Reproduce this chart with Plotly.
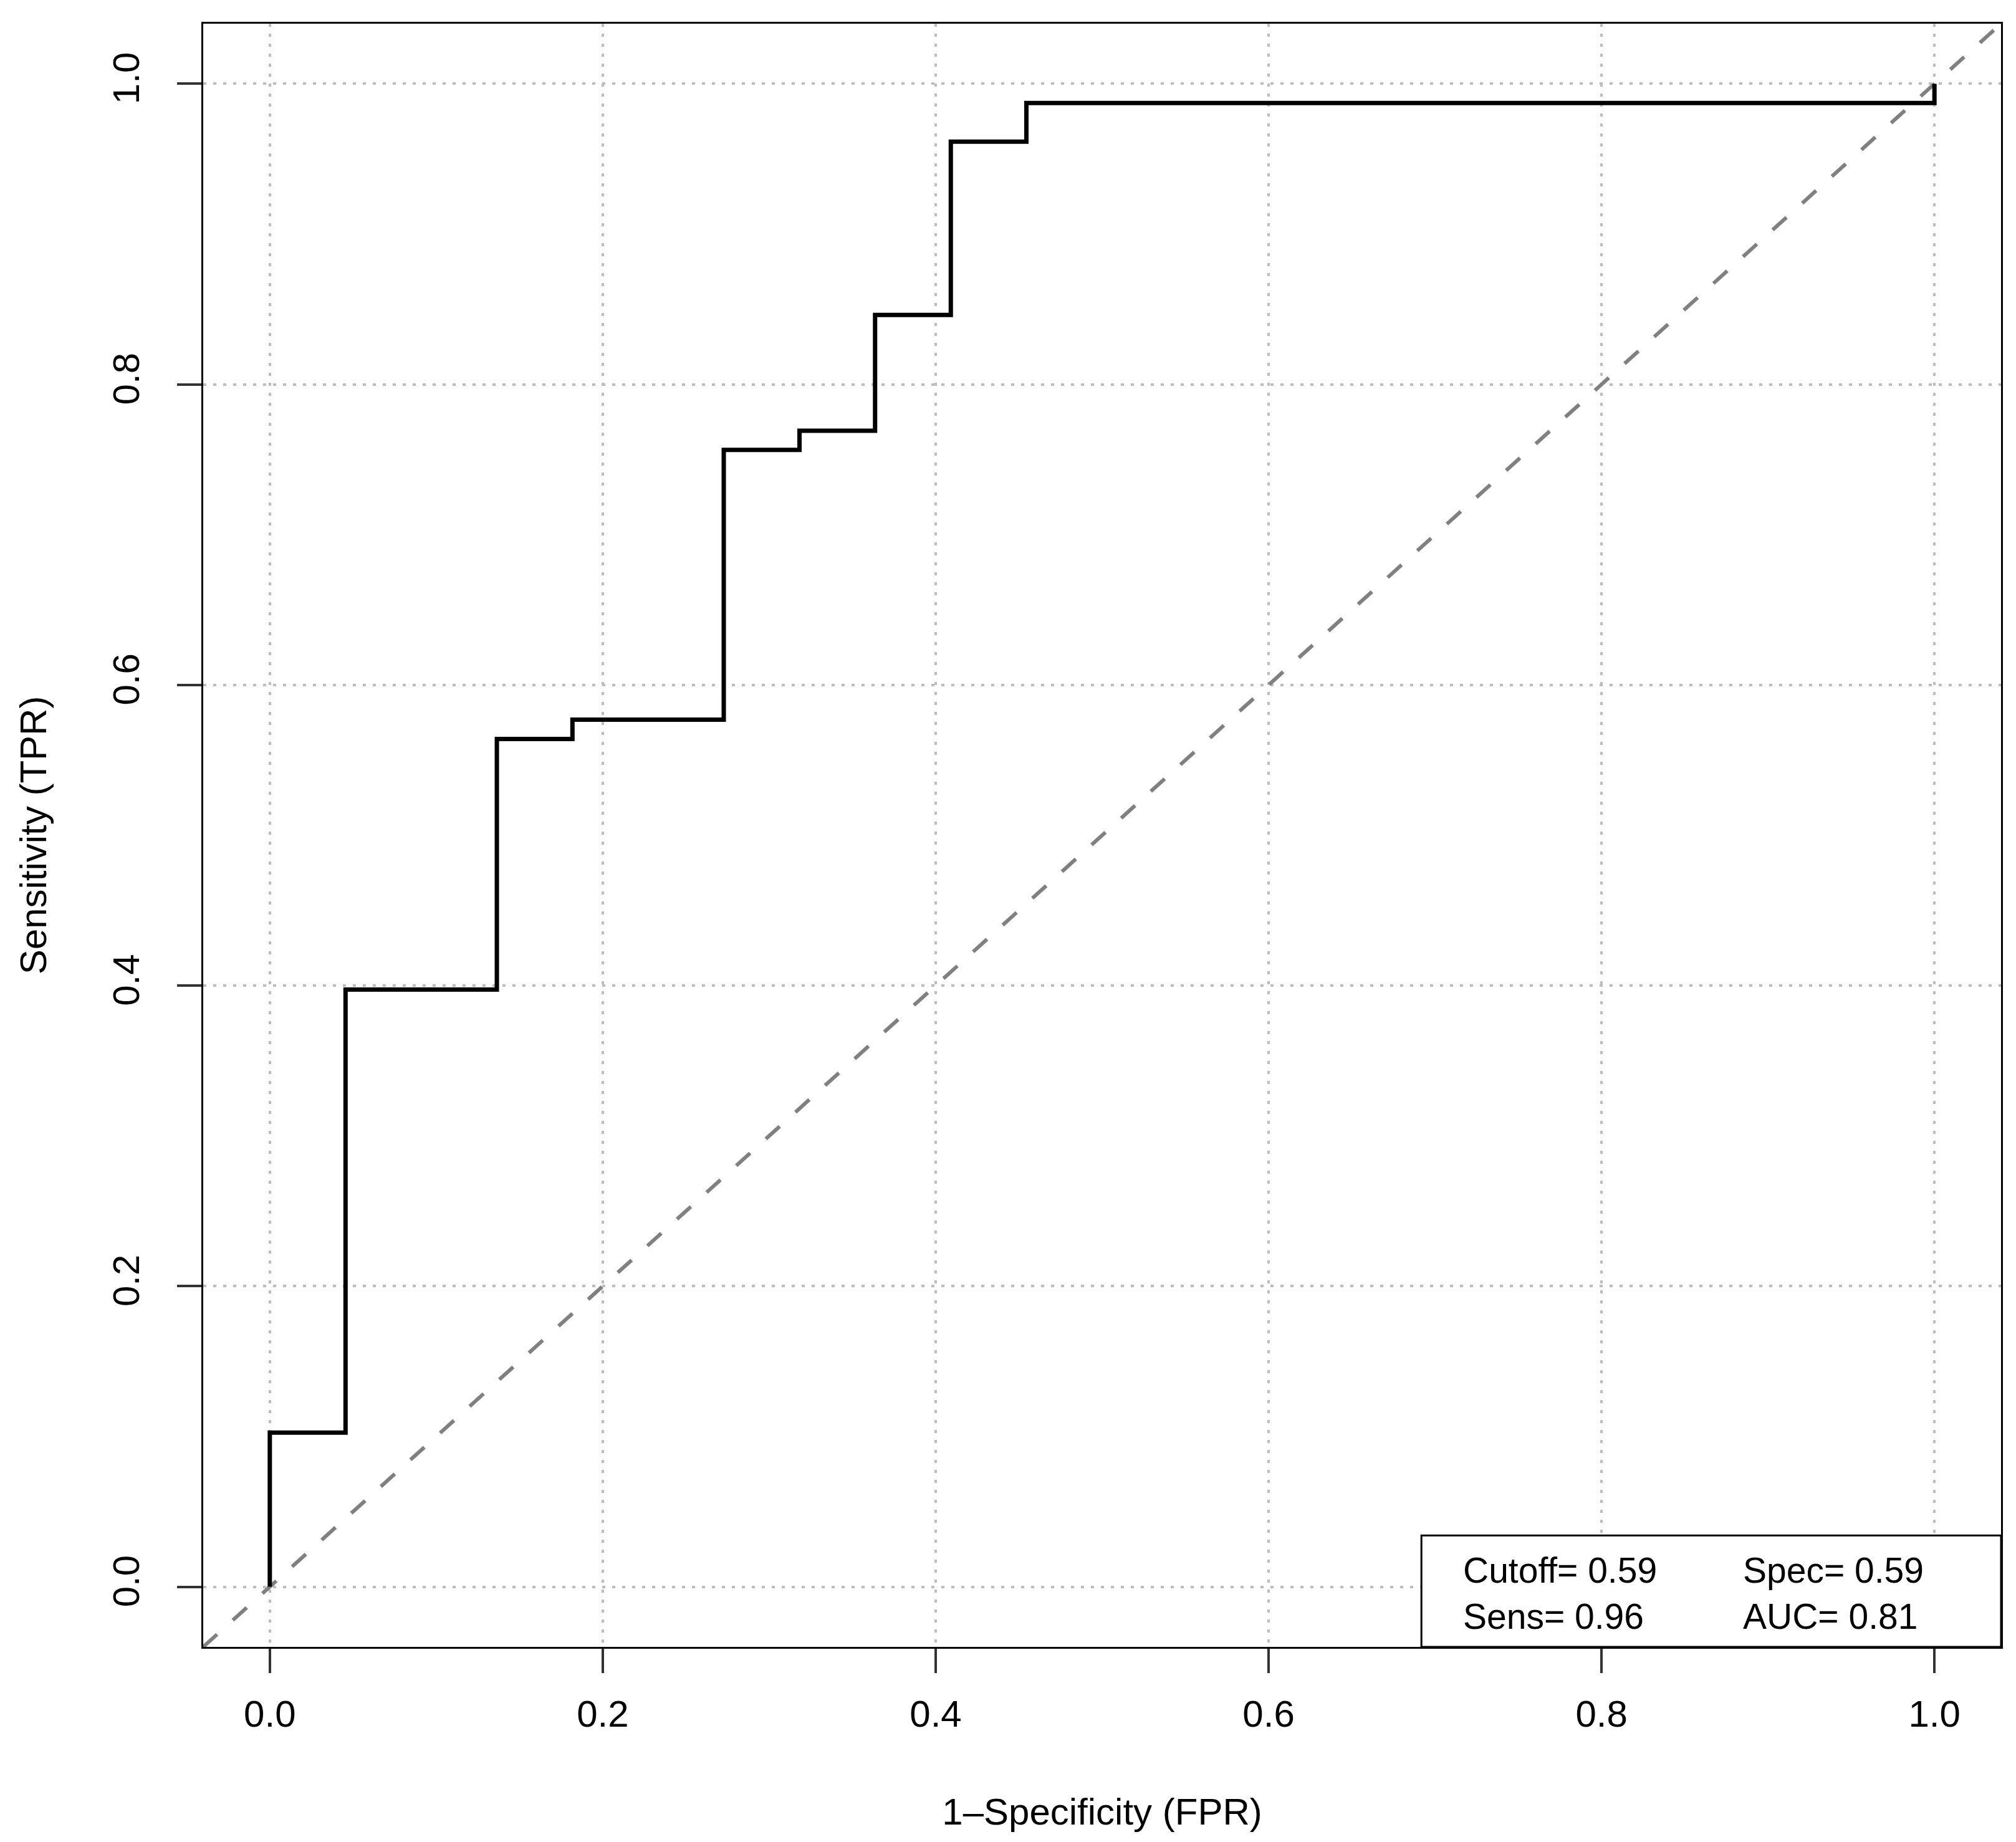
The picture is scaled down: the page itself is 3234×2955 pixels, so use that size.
import plotly.graph_objects as go

# ROC step curve
fpr = [0.0, 0.0455, 0.1364, 0.1818, 0.2727, 0.3182, 0.3636, 0.4091, 0.4545, 1.0, 1.0]
tpr = [0.0, 0.1026, 0.3974, 0.5641, 0.5769, 0.7564, 0.7692, 0.8462, 0.9615, 0.9872, 1.0]

# reference diagonal
diag_x = [-0.04, 1.04]
diag_y = [-0.04, 1.04]

tick_vals = [0.0, 0.2, 0.4, 0.6, 0.8, 1.0]
tick_text = ["0.0", "0.2", "0.4", "0.6", "0.8", "1.0"]

stats_col1 = ["Cutoff= 0.59", "Sens= 0.96"]
stats_col2 = ["Spec= 0.59", "AUC= 0.81"]

FONT = "Liberation Sans, Arial, Helvetica, sans-serif"

fig = go.Figure()
fig.add_trace(go.Scatter(
    x=diag_x, y=diag_y, mode="lines",
    line=dict(color="#808080", width=6, dash="30px,34px"),
    showlegend=False, hoverinfo="skip"))
fig.add_trace(go.Scatter(
    x=fpr, y=tpr, mode="lines", line_shape="vh",
    line=dict(color="black", width=7),
    showlegend=False))

axis_common = dict(
    range=[-0.04, 1.04], tickvals=tick_vals, ticktext=tick_text,
    showgrid=True, gridcolor="#bdbdbd", gridwidth=3.5, griddash="5px,11px",
    zeroline=False, showline=True, mirror=True, linecolor="black", linewidth=3,
    ticks="outside", ticklen=39, tickwidth=4, tickcolor="#333333",
    tickfont=dict(family=FONT, size=60, color="black"),
)

fig.update_layout(
    width=3234, height=2955,
    margin=dict(l=318, r=32, t=30, b=321, pad=0),
    paper_bgcolor="white", plot_bgcolor="white",
    font=dict(family=FONT, color="black"),
    xaxis=dict(**axis_common, ticklabelstandoff=14,
               title=dict(text="1–Specificity (FPR)", font=dict(family=FONT, size=60), standoff=103)),
    yaxis=dict(**axis_common, tickangle=-90, ticklabelstandoff=37,
               title=dict(text="Sensitivity (TPR)", font=dict(family=FONT, size=60), standoff=76)),
    showlegend=False,
)

# statistics box
fig.add_shape(type="rect", xref="paper", yref="paper",
              x0=0.6776, x1=1.0, y0=0.0, y1=0.0686,
              line=dict(color="black", width=3), fillcolor="white", layer="above")

for col, px in ((stats_col1, 0.7005), (stats_col2, 0.8561)):
    fig.add_annotation(text="<br>".join(col), xref="paper", yref="paper", x=px, y=0.0331,
                       xanchor="left", yanchor="middle", align="left", showarrow=False,
                       font=dict(family=FONT, size=57, color="black"), borderpad=0)

fig.write_html("out.html")
